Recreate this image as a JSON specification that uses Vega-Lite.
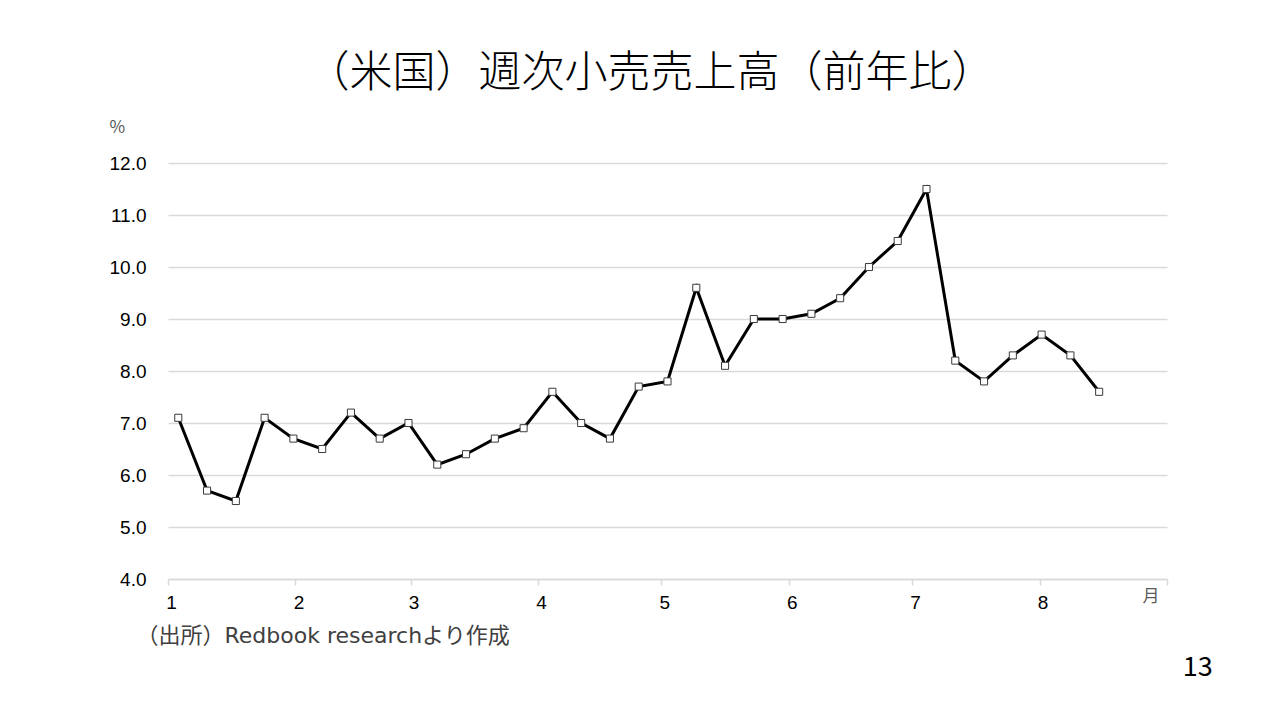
{
  "$schema": "https://vega.github.io/schema/vega-lite/v6.json",
  "width": 999,
  "height": 416,
  "autosize": "none",
  "padding": {"left": 168, "top": 163, "right": 113, "bottom": 144},
  "background": "white",
  "title": {
    "text": "（米国）週次小売売上高（前年比）",
    "anchor": "middle",
    "frame": "group",
    "dx": -17,
    "offset": 22,
    "font": "Noto Sans CJK JP",
    "fontSize": 43,
    "fontWeight": 300,
    "color": "#000000"
  },
  "data": {
    "values": [
      {"date": "2022-01-03T12:00:00Z", "value": 7.1},
      {"date": "2022-01-10T12:00:00Z", "value": 5.7},
      {"date": "2022-01-17T12:00:00Z", "value": 5.5},
      {"date": "2022-01-24T12:00:00Z", "value": 7.1},
      {"date": "2022-01-31T12:00:00Z", "value": 6.7},
      {"date": "2022-02-07T12:00:00Z", "value": 6.5},
      {"date": "2022-02-14T12:00:00Z", "value": 7.2},
      {"date": "2022-02-21T12:00:00Z", "value": 6.7},
      {"date": "2022-02-28T12:00:00Z", "value": 7.0},
      {"date": "2022-03-07T12:00:00Z", "value": 6.2},
      {"date": "2022-03-14T12:00:00Z", "value": 6.4},
      {"date": "2022-03-21T12:00:00Z", "value": 6.7},
      {"date": "2022-03-28T12:00:00Z", "value": 6.9},
      {"date": "2022-04-04T12:00:00Z", "value": 7.6},
      {"date": "2022-04-11T12:00:00Z", "value": 7.0},
      {"date": "2022-04-18T12:00:00Z", "value": 6.7},
      {"date": "2022-04-25T12:00:00Z", "value": 7.7},
      {"date": "2022-05-02T12:00:00Z", "value": 7.8},
      {"date": "2022-05-09T12:00:00Z", "value": 9.6},
      {"date": "2022-05-16T12:00:00Z", "value": 8.1},
      {"date": "2022-05-23T12:00:00Z", "value": 9.0},
      {"date": "2022-05-30T12:00:00Z", "value": 9.0},
      {"date": "2022-06-06T12:00:00Z", "value": 9.1},
      {"date": "2022-06-13T12:00:00Z", "value": 9.4},
      {"date": "2022-06-20T12:00:00Z", "value": 10.0},
      {"date": "2022-06-27T12:00:00Z", "value": 10.5},
      {"date": "2022-07-04T12:00:00Z", "value": 11.5},
      {"date": "2022-07-11T12:00:00Z", "value": 8.2},
      {"date": "2022-07-18T12:00:00Z", "value": 7.8},
      {"date": "2022-07-25T12:00:00Z", "value": 8.3},
      {"date": "2022-08-01T12:00:00Z", "value": 8.7},
      {"date": "2022-08-08T12:00:00Z", "value": 8.3},
      {"date": "2022-08-15T12:00:00Z", "value": 7.6}
    ]
  },
  "layer": [
    {
      "mark": {"type": "line", "color": "#000000", "strokeWidth": 3},
      "encoding": {
        "x": {
          "field": "date",
          "type": "temporal",
          "scale": {
            "type": "utc",
            "domain": [
              {"year": 2022, "month": 1, "date": 1, "utc": true},
              {"year": 2022, "month": 9, "date": 1, "utc": true}
            ],
            "nice": false
          },
          "axis": {
            "values": [
              {"year": 2022, "month": 1, "date": 1, "utc": true},
              {"year": 2022, "month": 2, "date": 1, "utc": true},
              {"year": 2022, "month": 3, "date": 1, "utc": true},
              {"year": 2022, "month": 4, "date": 1, "utc": true},
              {"year": 2022, "month": 5, "date": 1, "utc": true},
              {"year": 2022, "month": 6, "date": 1, "utc": true},
              {"year": 2022, "month": 7, "date": 1, "utc": true},
              {"year": 2022, "month": 8, "date": 1, "utc": true},
              {"year": 2022, "month": 9, "date": 1, "utc": true}
            ],
            "labelExpr": "utcmonth(datum.value) == 8 ? '月' : '' + (utcmonth(datum.value) + 1)",
            "labelFlush": false,
            "labelOverlap": false,
            "labelBound": false,
            "labelFont": {"condition": {"test": "utcmonth(datum.value) == 8", "value": "Noto Sans CJK JP"}, "value": "Liberation Sans"},
            "labelFontSize": {"condition": {"test": "utcmonth(datum.value) == 8", "value": 17}, "value": 19},
            "labelColor": {"condition": {"test": "utcmonth(datum.value) == 8", "value": "#595959"}, "value": "#000000"},
            "labelAlign": {"condition": {"test": "utcmonth(datum.value) == 8", "value": "right"}, "value": "center"},
            "labelOffset": {"condition": {"test": "utcmonth(datum.value) == 8", "value": -8}, "value": 3},
            "labelPadding": {"condition": {"test": "utcmonth(datum.value) == 8", "value": 3}, "value": 8},
            "grid": false,
            "domainColor": "#d9d9d9",
            "domainWidth": 1.5,
            "tickColor": "#d9d9d9",
            "tickSize": 6,
            "tickWidth": 1.5,
            "title": "（出所）Redbook researchより作成",
            "titleFont": "DejaVu Sans, Noto Sans CJK JP",
            "titleFontSize": 22,
            "titleFontWeight": "normal",
            "titleColor": "#404040",
            "titleAnchor": "start",
            "titleAlign": "left",
            "titleBaseline": "middle",
            "titleX": -32,
            "titleY": 56
          }
        },
        "y": {
          "field": "value",
          "type": "quantitative",
          "scale": {"domain": [4, 12], "nice": false, "zero": false},
          "axis": {
            "values": [4, 5, 6, 7, 8, 9, 10, 11, 12],
            "format": ".1f",
            "labelFont": "Liberation Sans",
            "labelFontSize": 19,
            "labelColor": "#000000",
            "labelPadding": 22,
            "domain": false,
            "ticks": false,
            "gridColor": "#d9d9d9",
            "gridWidth": 1.5,
            "title": "%",
            "titleFont": "Noto Sans CJK JP",
            "titleFontSize": 17,
            "titleFontWeight": "normal",
            "titleColor": "#595959",
            "titleAngle": 0,
            "titleAlign": "left",
            "titleBaseline": "middle",
            "titleX": -59,
            "titleY": -36
          }
        }
      }
    },
    {
      "mark": {"type": "point", "shape": "square", "filled": true, "fill": "#ffffff", "stroke": "#3a3a3a", "strokeWidth": 1, "size": 50, "opacity": 1},
      "encoding": {
        "x": {"field": "date", "type": "temporal"},
        "y": {"field": "value", "type": "quantitative"}
      }
    },
    {
      "data": {"values": [{"page": "13"}]},
      "mark": {"type": "text", "font": "Noto Sans CJK JP", "fontSize": 27, "color": "#000000", "align": "center", "baseline": "middle"},
      "encoding": {
        "text": {"field": "page", "type": "nominal"},
        "x": {"datum": {"year": 2022, "month": 9, "date": 8, "hours": 12, "utc": true}, "type": "temporal"},
        "y": {"datum": 2.28, "type": "quantitative"}
      }
    }
  ],
  "config": {
    "view": {"stroke": null}
  }
}
